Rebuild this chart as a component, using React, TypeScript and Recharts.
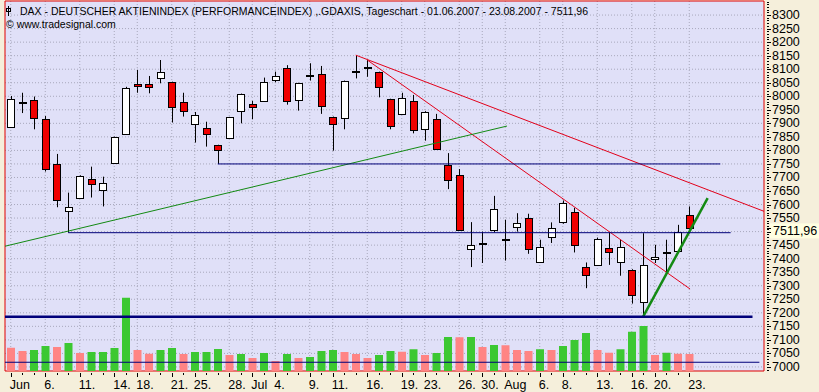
import React from "react";
import {
  ComposedChart,
  Bar,
  Cell,
  XAxis,
  YAxis,
  CartesianGrid,
  ReferenceLine,
  ReferenceArea,
} from "recharts";

// Trading days 01.06.2007 - 23.08.2007
const DAYS = [
  "01.06.", "04.06.", "05.06.", "06.06.", "07.06.", "08.06.", "11.06.", "12.06.", "13.06.", "14.06.",
  "15.06.", "18.06.", "19.06.", "20.06.", "21.06.", "22.06.", "25.06.", "26.06.", "27.06.", "28.06.",
  "29.06.", "02.07.", "03.07.", "04.07.", "05.07.", "06.07.", "09.07.", "10.07.", "11.07.", "12.07.",
  "13.07.", "16.07.", "17.07.", "18.07.", "19.07.", "20.07.", "23.07.", "24.07.", "25.07.", "26.07.",
  "27.07.", "30.07.", "31.07.", "01.08.", "02.08.", "03.08.", "06.08.", "07.08.", "08.08.", "09.08.",
  "10.08.", "13.08.", "14.08.", "15.08.", "16.08.", "17.08.", "20.08.", "21.08.", "22.08.", "23.08.",
];

const OPEN = [
  7888, 7978, 7986, 7916, 7750, 7576, 7624, 7695, 7653, 7753,
  7860, 8045, 8045, 8066, 8052, 7978, 7897, 7882, 7819, 7845,
  7947, 7972, 7984, 8059, 8103, 7985, 8080, 8082, 7923, 7921,
  8092, 8107, 8089, 7989, 7934, 7984, 7878, 7915, 7747, 7710,
  7437, 7458, 7507, 7471, 7517, 7550, 7387, 7480, 7535, 7574,
  7371, 7377, 7439, 7387, 7359, 7240, 7398, 7426, 7427, 7562,
];
const HIGH = [
  8001, 8013, 7999, 7927, 7787, 7644, 7708, 7740, 7703, 7851,
  8035, 8097, 8075, 8134, 8054, 8013, 7942, 7906, 7821, 7924,
  8010, 7983, 8069, 8091, 8115, 8050, 8122, 8112, 7925, 8058,
  8152, 8134, 8091, 7991, 8013, 8005, 7945, 7935, 7790, 7731,
  7535, 7500, 7632, 7544, 7568, 7566, 7470, 7534, 7615, 7588,
  7386, 7478, 7497, 7470, 7361, 7494, 7451, 7470, 7525, 7593,
];
const LOW = [
  7887, 7938, 7878, 7722, 7590, 7496, 7622, 7626, 7593, 7751,
  7858, 8013, 8011, 8048, 7903, 7925, 7829, 7814, 7750, 7843,
  7900, 7915, 7982, 8052, 7969, 7947, 8058, 7935, 7799, 7878,
  8066, 8072, 7996, 7878, 7932, 7863, 7836, 7802, 7657, 7505,
  7369, 7384, 7497, 7393, 7500, 7418, 7385, 7458, 7529, 7423,
  7291, 7375, 7377, 7337, 7234, 7185, 7384, 7347, 7425, 7510,
];
const CLOSE = [
  7989, 7975, 7919, 7731, 7617, 7590, 7706, 7675, 7679, 7849,
  8030, 8037, 8033, 8091, 7962, 7947, 7930, 7860, 7801, 7922,
  8008, 7959, 8053, 8075, 7984, 8048, 8077, 7963, 7897, 8056,
  8090, 8105, 8035, 7892, 7993, 7876, 7943, 7804, 7691, 7507,
  7451, 7456, 7583, 7469, 7531, 7435, 7443, 7513, 7605, 7449,
  7338, 7472, 7423, 7443, 7264, 7377, 7406, 7424, 7497, 7511.96,
];
// Volume, Mio. Stück
const VOLUME = [
  93, 80, 84, 100, 96, 112, 72, 76, 76, 92,
  293, 84, 69, 84, 92, 68, 76, 76, 88, 64,
  68, 52, 72, 40, 68, 52, 56, 80, 84, 76,
  68, 52, 64, 80, 77, 87, 64, 72, 136, 135,
  136, 96, 104, 103, 84, 80, 87, 84, 100, 124,
  152, 84, 73, 87, 157, 180, 64, 73, 69, 68,
];
const PREV_VOLUME = 100;
const VOLUME_AVG = 35;

const LABEL_DAYS = [
  "01.06.", "06.06.", "11.06.", "14.06.", "18.06.", "21.06.", "25.06.", "28.06.",
  "02.07.", "04.07.", "09.07.", "11.07.", "16.07.", "19.07.", "23.07.", "26.07.", "30.07.",
  "01.08.", "06.08.", "08.08.", "13.08.", "16.08.", "20.08.", "23.08.",
];
const LABEL_TEXT = [
  "Jun", "6.", "11.", "14.", "18.", "21.", "25.", "28.",
  "Jul", "4.", "9.", "11.", "16.", "19.", "23.", "26.", "30.",
  "Aug", "6.", "8.", "13.", "16.", "20.", "23.",
];
const PRICE_TICKS = [
  7000, 7050, 7100, 7150, 7200, 7250, 7300, 7350, 7400, 7450, 7500, 7550, 7600, 7650,
  7700, 7750, 7800, 7850, 7900, 7950, 8000, 8050, 8100, 8150, 8200, 8250, 8300,
];
const PRICE_DOMAIN = [6985, 8352];
const EMPTY_SLOTS = 6;

// drawn lines: [day index, price]
const TRENDS = [
  { id: "resUpper", from: [30, 8152], to: [65.5, 7575] },
  { id: "resLower", from: [31, 8134], to: [59.07, 7288] },
  { id: "supThin", from: [-0.5, 7446], to: [43.15, 7890] },
  { id: "supSteep", from: [54.98, 7185], to: [60.6, 7624] },
  { id: "h7750", from: [18, 7750], to: [61.7, 7750] },
  { id: "h7496", from: [5, 7496], to: [62.6, 7496] },
  { id: "h7185", from: [-0.5, 7185], to: [64.5, 7185] },
];
const TREND_STYLE: Record<string, { stroke: string; strokeWidth: number }> = {
  resUpper: { stroke: "#e2001a", strokeWidth: 1 },
  resLower: { stroke: "#e2001a", strokeWidth: 1 },
  supThin: { stroke: "#138a13", strokeWidth: 1 },
  supSteep: { stroke: "#138a13", strokeWidth: 2.5 },
  h7750: { stroke: "#00007a", strokeWidth: 1 },
  h7496: { stroke: "#00007a", strokeWidth: 1 },
  h7185: { stroke: "#00007a", strokeWidth: 2.5 },
};

const FONT = '"Liberation Sans Narrow", "Arial Narrow", "Liberation Sans", Arial, sans-serif';
const TITLE_FONT = '"Liberation Sans", Arial, sans-serif';
const PAGE_BG = "#f5efdb";
const PLOT_BG = "#e0e0f8";
const UP_VOL = "#3cc832";
const DOWN_VOL = "#ff8484";

const fmt = (v: number) => v.toFixed(2).replace(".", ",");
const LAST = CLOSE[CLOSE.length - 1];

const rows: any[] = [
  ...DAYS.map((day, i) => ({
    day,
    i,
    open: OPEN[i],
    high: HIGH[i],
    low: LOW[i],
    close: CLOSE[i],
    range: [LOW[i], HIGH[i]],
    vol: VOLUME[i],
    volUp: VOLUME[i] >= (i > 0 ? VOLUME[i - 1] : PREV_VOLUME),
  })),
  ...Array.from({ length: EMPTY_SLOTS }, (_, k) => ({ day: `+${k + 1}`, i: DAYS.length + k })),
];

const minorTicks: number[] = [];
for (let v = 6990; v <= 8350; v += 10) minorTicks.push(v);

function Candle(props: any) {
  const { x, y, width, height, payload } = props;
  if (!payload || payload.open == null || !height) return null;
  const { open, close, high, low } = payload;
  const k = height / (high - low);
  const top = y + (high - Math.max(open, close)) * k;
  const bot = y + (high - Math.min(open, close)) * k;
  const cx = Math.floor(x + width / 2) + 0.5;
  const up = close > open;
  const bx = Math.round(x) + 0.5;
  return (
    <g>
      <line x1={cx} x2={cx} y1={y} y2={y + height} stroke="#000" strokeWidth={1} />
      <rect
        x={bx}
        y={Math.round(top) + 0.5}
        width={Math.round(width) - 1}
        height={Math.max(Math.round(bot) - Math.round(top), 1)}
        fill={up ? "#ffffff" : "#f00000"}
        stroke="#000"
        strokeWidth={1}
      />
    </g>
  );
}

function DayTick(props: any) {
  const { x, y, payload } = props;
  if (!DAYS.includes(payload.value)) return null;
  const li = LABEL_DAYS.indexOf(payload.value);
  const xx = Math.round(x) + 0.5;
  return (
    <g>
      <line x1={xx} x2={xx} y1={y + 2} y2={y + (li >= 0 ? 6 : 4)} stroke="#000" />
      {li >= 0 && (
        <text x={x - 1} y={y + 18} fontSize={12.5} fontFamily={FONT} fill="#000" textAnchor="start">
          {LABEL_TEXT[li]}
        </text>
      )}
    </g>
  );
}

function PriceTick(props: any) {
  const { x, y, payload } = props;
  const v = payload.value;
  const major = PRICE_TICKS.includes(v);
  // the last-price box hides the label right under it
  const showLabel = major && Math.abs(v - LAST) > 20;
  const yy = Math.round(y) + 0.5;
  return (
    <g>
      <line x1={x + 3} x2={x + (major ? 7 : 5)} y1={yy} y2={yy} stroke="#000" />
      {showLabel && (
        <text x={x + 8} y={y + 4} fontSize={12.5} fontFamily={FONT} fill="#000">
          {v}
        </text>
      )}
    </g>
  );
}

function LastLabel(props: any) {
  const vb = props.viewBox;
  if (!vb) return null;
  const x0 = vb.x + vb.width;
  return (
    <g>
      <rect x={x0 + 6} y={vb.y - 5} width={50} height={15} fill="#ffffe1" />
      <line x1={x0 + 3} x2={x0 + 7} y1={Math.round(vb.y) + 0.5} y2={Math.round(vb.y) + 0.5} stroke="#000" />
      <text x={x0 + 9} y={vb.y + 6.5} fontSize={12.5} fontFamily={FONT} fill="#000">
        {fmt(LAST)}
      </text>
    </g>
  );
}

export default function App() {
  return (
    <div style={{ position: "relative", width: 819, height: 392, background: PAGE_BG }}>
      <style>{`body{margin:0;background:${PAGE_BG}}`}</style>
      <ComposedChart width={819} height={392} data={rows} margin={{ top: 1, right: 0, bottom: 0, left: 5 }}>
        <CartesianGrid
          xAxisId="cat"
          yAxisId="price"
          fill={PLOT_BG}
          fillOpacity={1}
          stroke="#a8a8bc"
          strokeDasharray="1 2"
          horizontalValues={PRICE_TICKS}
          verticalValues={LABEL_DAYS}
        />
        <XAxis
          xAxisId="cat"
          dataKey="day"
          interval={0}
          tickSize={0}
          tickMargin={0}
          tickLine={false}
          axisLine={false}
          height={21}
          tick={<DayTick />}
        />
        <XAxis xAxisId="vx" dataKey="day" hide />
        <XAxis
          xAxisId="num"
          type="number"
          dataKey="i"
          domain={[-0.5, rows.length - 0.5]}
          allowDataOverflow
          hide
        />
        <YAxis
          yAxisId="price"
          orientation="right"
          type="number"
          domain={PRICE_DOMAIN}
          allowDataOverflow
          ticks={minorTicks}
          interval={0}
          tickSize={0}
          tickMargin={0}
          tickLine={false}
          axisLine={false}
          width={55}
          tick={<PriceTick />}
        />
        <YAxis yAxisId="vol" type="number" domain={[0, 1480]} allowDataOverflow hide />

        <Bar xAxisId="vx" yAxisId="vol" dataKey="vol" barSize={8} isAnimationActive={false}>
          {rows.map((r, i) => (
            <Cell key={i} fill={r.volUp ? UP_VOL : DOWN_VOL} />
          ))}
        </Bar>
        <Bar
          xAxisId="cat"
          yAxisId="price"
          dataKey="range"
          barSize={8}
          isAnimationActive={false}
          shape={(p: any) => <Candle {...p} />}
        />

        <ReferenceLine
          xAxisId="num"
          yAxisId="vol"
          segment={[{ x: -0.5, y: VOLUME_AVG }, { x: 65.1, y: VOLUME_AVG }]}
          stroke="#00007a"
          strokeWidth={1}
          ifOverflow="visible"
        />
        {TRENDS.map((t) => (
          <ReferenceLine
            key={t.id}
            xAxisId="num"
            yAxisId="price"
            segment={[
              { x: t.from[0], y: t.from[1] },
              { x: t.to[0], y: t.to[1] },
            ]}
            ifOverflow="visible"
            {...TREND_STYLE[t.id]}
          />
        ))}
        <ReferenceLine
          xAxisId="num"
          yAxisId="price"
          y={LAST}
          stroke="none"
          ifOverflow="visible"
          label={<LastLabel />}
        />
        <ReferenceArea
          xAxisId="num"
          yAxisId="price"
          x1={-0.5}
          x2={rows.length - 0.5}
          y1={PRICE_DOMAIN[0]}
          y2={PRICE_DOMAIN[1]}
          fill="none"
          stroke="#e00000"
          strokeWidth={1}
          ifOverflow="visible"
        />
      </ComposedChart>

      <svg
        width={819}
        height={40}
        style={{ position: "absolute", left: 0, top: 0, pointerEvents: "none" }}
      >
        <rect x={6.5} y={8.5} width={4} height={3} fill="none" stroke="#000" />
        <line x1={8.5} x2={8.5} y1={6} y2={16} stroke="#000" />
        <text x={20} y={15} fontSize={10.5} fontFamily={TITLE_FONT} fill="#000">
          {`DAX  - DEUTSCHER AKTIENINDEX (PERFORMANCEINDEX) ,.GDAXIS, Tageschart - 01.06.2007 - 23.08.2007 - ${fmt(LAST)}`}
        </text>
        <text x={6} y={28} fontSize={10.5} fontFamily={TITLE_FONT} fill="#000">
          © www.tradesignal.com
        </text>
      </svg>
    </div>
  );
}
